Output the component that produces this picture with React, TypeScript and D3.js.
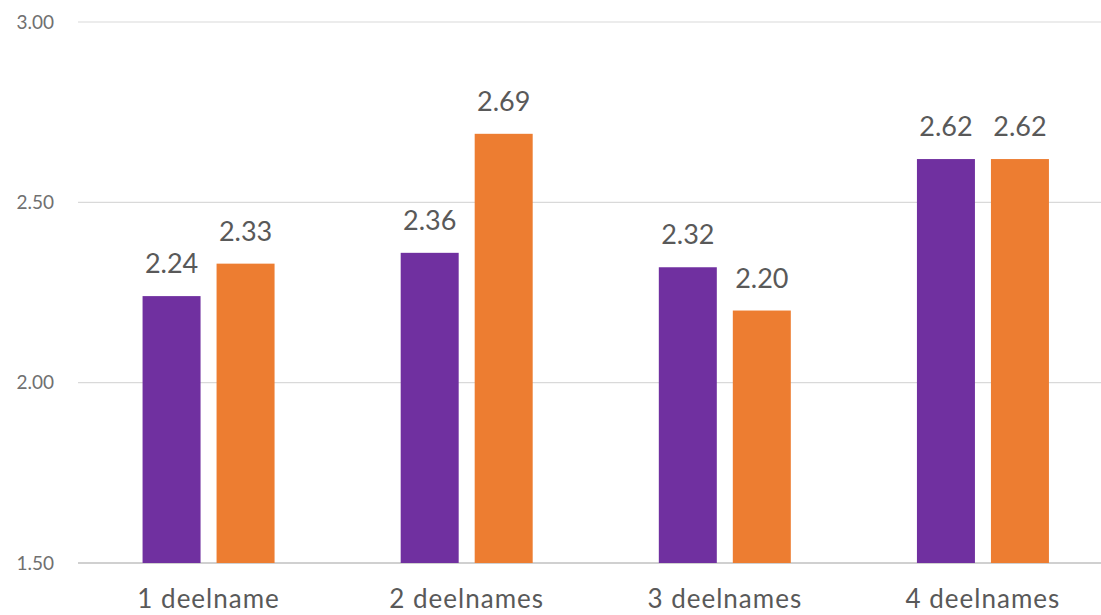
import React from "react";
import * as d3 from "d3";

const categories = ["1 deelname", "2 deelnames", "3 deelnames", "4 deelnames"];
const seriesNames = ["A", "B"];
const seriesA = [2.24, 2.36, 2.32, 2.62];
const seriesB = [2.33, 2.69, 2.2, 2.62];
const yTicks = [1.5, 2.0, 2.5, 3.0];

const W = 1101;
const H = 615;
const colors = ["#7030A0", "#ED7D31"];

export default function App() {
  const x0 = d3.scaleBand<string>().domain(categories).range([79.5, 1112]);
  const y = d3.scaleLinear().domain([1.5, 3.0]).range([563, 22]);
  const groupW = 132;
  const fmt = d3.format(".2f");
  const values = [seriesA, seriesB];
  const font = "Lato, 'Open Sans', sans-serif";

  return (
    <svg
      width={W}
      height={H}
      style={{ position: "fixed", left: 0, top: 0, display: "block", background: "#fff" }}
    >
      {yTicks.map((t) => (
        <g key={t}>
          <line
            x1={78}
            x2={W}
            y1={y(t)}
            y2={y(t)}
            stroke={t === 1.5 ? "#d0d0d0" : "#d9d9d9"}
            strokeWidth={t === 1.5 ? 2 : 1.2}
          />
          <text
            x={54}
            y={y(t)}
            dy="0.35em"
            textAnchor="end"
            fontFamily={font}
            fontSize={19}
            fill="#707070"
          >
            {fmt(t)}
          </text>
        </g>
      ))}
      {categories.map((c, i) => {
        const center = (x0(c) as number) + x0.bandwidth() / 2;
        const x1 = d3
          .scaleBand<string>()
          .domain(seriesNames)
          .range([center - groupW / 2, center + groupW / 2])
          .paddingInner(16 / 74);
        return (
          <g key={c}>
            {seriesNames.map((s, j) => {
              const v = values[j][i];
              const bx = x1(s) as number;
              const bw = x1.bandwidth();
              return (
                <g key={s}>
                  <rect x={bx} y={y(v)} width={bw} height={y(1.5) - y(v)} fill={colors[j]} />
                  <text
                    x={bx + bw / 2}
                    y={y(v) - 23}
                    textAnchor="middle"
                    fontFamily={font}
                    fontSize={27}
                    fill="#595959"
                  >
                    {fmt(v)}
                  </text>
                </g>
              );
            })}
            <text
              x={center}
              y={608}
              textAnchor="middle"
              fontFamily={font}
              fontSize={26}
              letterSpacing={1}
              fill="#595959"
            >
              {c}
            </text>
          </g>
        );
      })}
    </svg>
  );
}
